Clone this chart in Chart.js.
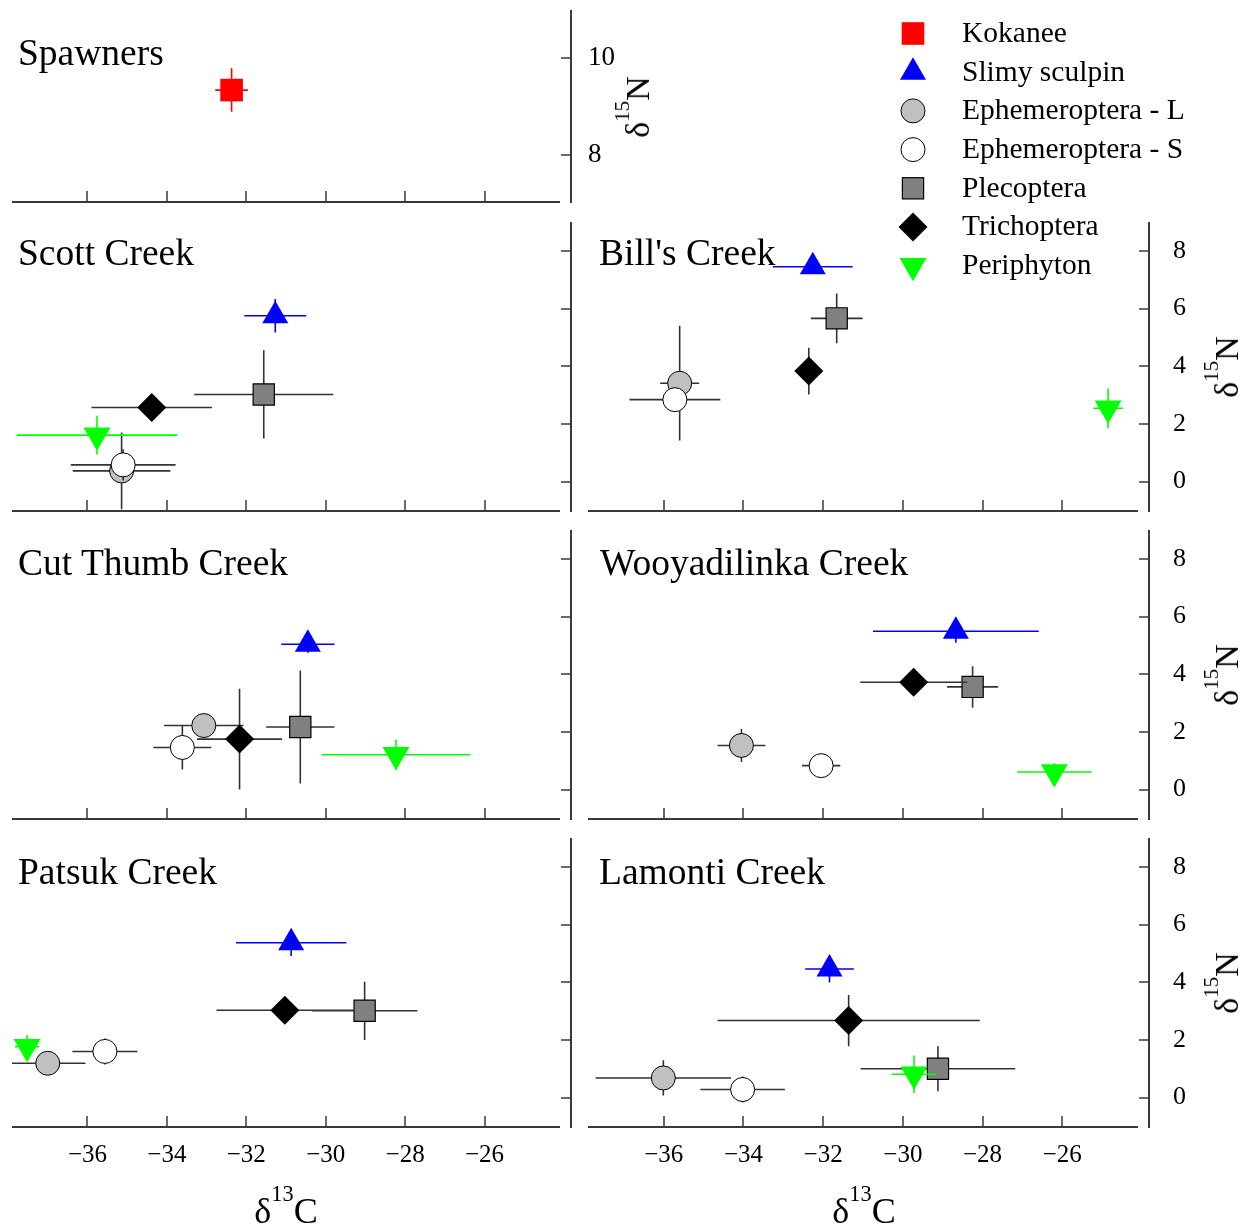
<!DOCTYPE html>
<html>
<head>
<meta charset="utf-8">
<title>Stable isotope biplots</title>
<script src="https://cdn.jsdelivr.net/npm/chart.js@4.4.1/dist/chart.umd.min.js"></script>
<style>
  body { margin: 0; background: #fff; }
  #page { position: relative; width: 1254px; height: 1230px; overflow: hidden; font-family: "Liberation Serif", "Times New Roman", serif; color: #000; }
  #page canvas { position: absolute; left: 0; top: 0; }
  .txt { position: absolute; white-space: nowrap; line-height: 1; }
  .txt sup { font-size: 0.62em; line-height: 0; vertical-align: baseline; position: relative; top: -0.97em; }
  #legend { position: absolute; left: 0; top: 0; }
</style>
</head>
<body>
<div id="page"></div>
<script>
// series order inside every stream panel
const seriesNames = ['Slimy sculpin', 'Ephemeroptera - L', 'Ephemeroptera - S', 'Plecoptera', 'Trichoptera', 'Periphyton'];
const legendNames = ['Kokanee', 'Slimy sculpin', 'Ephemeroptera - L', 'Ephemeroptera - S', 'Plecoptera', 'Trichoptera', 'Periphyton'];
const panelNames = ['Spawners', 'Scott Creek', "Bill's Creek", 'Cut Thumb Creek', 'Wooyadilinka Creek', 'Patsuk Creek', 'Lamonti Creek'];
const xTicks = [-36, -34, -32, -30, -28, -26];
const yTicks = [0, 2, 4, 6, 8];
const spawnTicks = [8, 10];

// d13C mean, d15N mean and their SD (same order as seriesNames)
const spawnC = [-32.37];
const spawnN = [9.34];
const spawnCsd = [0.41];
const spawnNsd = [0.45];

const scottC = [-31.27, -35.14, -35.10, -31.56, -34.38, -35.76];
const scottN = [5.75, 0.37, 0.58, 3.02, 2.57, 1.61];
const scottCsd = [0.78, 1.23, 1.32, 1.75, 1.52, 2.02];
const scottNsd = [0.58, 1.33, 0.54, 1.53, 0.25, 0.67];

const billsC = [-32.26, -35.60, -35.72, -31.66, -32.36, -24.85];
const billsN = [7.45, 3.41, 2.84, 5.66, 3.83, 2.54];
const billsCsd = [1.0, 0.49, 1.14, 0.65, 0.2, 0.37];
const billsNsd = [0.2, 1.99, 0.3, 0.86, 0.81, 0.69];

const cutC = [-30.45, -33.07, -33.61, -30.64, -32.17, -28.23];
const cutN = [5.04, 2.22, 1.46, 2.17, 1.75, 1.21];
const cutCsd = [0.67, 1.0, 0.73, 0.86, 1.07, 1.87];
const cutNsd = [0.3, 0.3, 0.76, 1.96, 1.75, 0.52];

const wooyC = [-28.67, -34.05, -32.05, -28.25, -29.73, -26.20];
const wooyN = [5.49, 1.53, 0.83, 3.56, 3.72, 0.61];
const wooyCsd = [2.08, 0.6, 0.48, 0.64, 1.34, 0.93];
const wooyNsd = [0.4, 0.57, 0.3, 0.72, 0.3, 0.3];

const patsukC = [-30.87, -37.00, -35.56, -29.02, -31.03, -37.52];
const patsukN = [5.37, 1.19, 1.60, 3.01, 3.03, 1.76];
const patsukCsd = [1.39, 0.95, 0.82, 1.33, 1.72, 0.3];
const patsukNsd = [0.46, 0.3, 0.45, 1.01, 0.3, 0.4];

const lamontiC = [-31.84, -36.01, -34.02, -29.12, -31.36, -29.72];
const lamontiN = [4.46, 0.68, 0.28, 1.00, 2.67, 0.81];
const lamontiCsd = [0.61, 1.7, 1.06, 1.94, 3.29, 0.56];
const lamontiNsd = [0.47, 0.61, 0.45, 0.78, 0.89, 0.65];

const styles = {
  'Kokanee': {shape: 'rect', radius: 16, fill: '#ff0000', border: '#ff0000', borderWidth: 0, bar: '#ff0000'},
  'Slimy sculpin': {shape: 'triangle', radius: 15, fill: '#0000ff', border: '#0000ff', borderWidth: 0, bar: '#0000ff'},
  'Ephemeroptera - L': {shape: 'circle', radius: 12, fill: '#c0c0c0', border: '#000', borderWidth: 1, bar: '#333'},
  'Ephemeroptera - S': {shape: 'circle', radius: 12, fill: '#ffffff', border: '#000', borderWidth: 1, bar: '#333'},
  'Plecoptera': {shape: 'rect', radius: 15, fill: '#808080', border: '#000', borderWidth: 1.2, bar: '#333'},
  'Trichoptera': {shape: 'rectRot', radius: 14.5, fill: '#000', border: '#000', borderWidth: 0, bar: '#333'},
  'Periphyton': {shape: 'triangle', radius: 15.5, rotation: 180, fill: '#00ff00', border: '#00ff00', borderWidth: 0, bar: '#00ff00'}
};

const W = 1254, H = 1230, AX = 60;
const XMIN = -37.9, XMAX = -24.1, YAXIS_AT = -23.83;
const FONT = '"Liberation Serif", "Times New Roman", serif';
const page = document.querySelector('#page');

// axis lines with inward ticks, y axis sits a little right of the x axis end
const frameAxes = {
  id: 'frameAxes',
  beforeDatasetsDraw(chart) {
    const {ctx, chartArea: a} = chart;
    const x = chart.scales.x, y = chart.scales.y;
    const yx = Math.round(x.getPixelForValue(YAXIS_AT));
    ctx.save();
    ctx.strokeStyle = '#3a3a3a';
    ctx.lineWidth = 2;
    ctx.beginPath();
    ctx.moveTo(a.left, a.bottom);
    ctx.lineTo(a.right, a.bottom);
    ctx.moveTo(yx, a.top);
    ctx.lineTo(yx, a.bottom + 1);
    ctx.stroke();
    ctx.lineWidth = 1.5;
    ctx.beginPath();
    x.ticks.forEach(t => {
      const p = Math.round(x.getPixelForValue(t.value));
      ctx.moveTo(p, a.bottom);
      ctx.lineTo(p, a.bottom - 11);
    });
    y.ticks.forEach(t => {
      const p = Math.round(y.getPixelForValue(t.value));
      ctx.moveTo(yx, p);
      ctx.lineTo(yx - 10, p);
    });
    ctx.stroke();
    ctx.restore();
  }
};

// error bars drawn just before each dataset's marker
const errorBars = {
  id: 'errorBars',
  beforeDatasetDraw(chart, args) {
    const ds = chart.data.datasets[args.index];
    const {ctx, chartArea: a} = chart;
    const x = chart.scales.x, y = chart.scales.y;
    ctx.save();
    ctx.beginPath();
    ctx.rect(a.left, a.top, a.right - a.left, a.bottom - a.top);
    ctx.clip();
    ctx.strokeStyle = ds.barColor;
    ctx.lineWidth = 1.6;
    ds.data.forEach((p, i) => {
      const px = x.getPixelForValue(p.x), py = y.getPixelForValue(p.y);
      ctx.beginPath();
      ctx.moveTo(x.getPixelForValue(p.x - ds.errX[i]), py);
      ctx.lineTo(x.getPixelForValue(p.x + ds.errX[i]), py);
      ctx.moveTo(px, y.getPixelForValue(p.y - ds.errY[i]));
      ctx.lineTo(px, y.getPixelForValue(p.y + ds.errY[i]));
      ctx.stroke();
    });
    ctx.restore();
  }
};

function makeSets(names, c, n, cSd, nSd) {
  return names.map((name, i) => {
    const st = styles[name];
    return {
      label: name,
      data: [{x: c[i], y: n[i]}],
      errX: [cSd[i]],
      errY: [nSd[i]],
      barColor: st.bar,
      pointStyle: st.shape,
      pointRadius: st.radius,
      pointHoverRadius: st.radius,
      pointRotation: st.rotation || 0,
      backgroundColor: st.fill,
      borderColor: st.border,
      borderWidth: st.borderWidth,
      order: names.length - i
    };
  });
}

function panel(box, sets, showX, showY, yPad, yFont, ymin, ymax, yList) {
  const cv = document.createElement('canvas');
  cv.width = W;
  cv.height = H;
  page.appendChild(cv);
  new Chart(cv, {
    type: 'scatter',
    data: {datasets: sets},
    options: {
      responsive: false,
      animation: false,
      devicePixelRatio: 1,
      events: [],
      layout: {autoPadding: false, padding: {left: box.L, top: box.T, right: W - box.R - AX, bottom: H - box.B - AX}},
      plugins: {legend: {display: false}, tooltip: {enabled: false}},
      scales: {
        x: {
          type: 'linear', position: 'bottom', min: XMIN, max: XMAX,
          afterFit: s => { s.height = AX; s.paddingLeft = 0; s.paddingRight = 0; s.paddingTop = 0; s.paddingBottom = 0; },
          afterBuildTicks: s => { s.ticks = xTicks.map(v => ({value: v})); },
          grid: {display: false, drawTicks: false}, border: {display: false},
          ticks: {
            display: showX, padding: 13, maxRotation: 0, autoSkip: false, color: '#000',
            font: {family: FONT, size: 25},
            callback: v => String(v).replace('-', '\u2212')
          }
        },
        y: {
          type: 'linear', position: 'right', min: ymin, max: ymax,
          afterFit: s => { s.width = AX; s.paddingLeft = 0; s.paddingRight = 0; s.paddingTop = 0; s.paddingBottom = 0; },
          afterBuildTicks: s => { s.ticks = yList.map(v => ({value: v})); },
          grid: {display: false, drawTicks: false}, border: {display: false},
          ticks: {display: showY, padding: yPad, color: '#000', font: {family: FONT, size: yFont}}
        }
      }
    },
    plugins: [frameAxes, errorBars]
  });
}

const LEFT = {L: 12, R: 560};
const RIGHT = {L: 588, R: 1138};
const rowTop = [10, 222, 530, 838];
const rowBot = [202, 511, 819, 1127];

panel({L: LEFT.L, R: LEFT.R, T: rowTop[0], B: rowBot[0]},
  makeSets(['Kokanee'], spawnC, spawnN, spawnCsd, spawnNsd), false, true, 28, 27, 7.02, 11, spawnTicks);
panel({L: LEFT.L, R: LEFT.R, T: rowTop[1], B: rowBot[1]},
  makeSets(seriesNames, scottC, scottN, scottCsd, scottNsd), false, false, 35, 26, -1.02, 9, yTicks);
panel({L: RIGHT.L, R: RIGHT.R, T: rowTop[1], B: rowBot[1]},
  makeSets(seriesNames, billsC, billsN, billsCsd, billsNsd), false, true, 35, 26, -1.02, 9, yTicks);
panel({L: LEFT.L, R: LEFT.R, T: rowTop[2], B: rowBot[2]},
  makeSets(seriesNames, cutC, cutN, cutCsd, cutNsd), false, false, 35, 26, -1.02, 9, yTicks);
panel({L: RIGHT.L, R: RIGHT.R, T: rowTop[2], B: rowBot[2]},
  makeSets(seriesNames, wooyC, wooyN, wooyCsd, wooyNsd), false, true, 35, 26, -1.02, 9, yTicks);
panel({L: LEFT.L, R: LEFT.R, T: rowTop[3], B: rowBot[3]},
  makeSets(seriesNames, patsukC, patsukN, patsukCsd, patsukNsd), true, false, 35, 26, -1.02, 9, yTicks);
panel({L: RIGHT.L, R: RIGHT.R, T: rowTop[3], B: rowBot[3]},
  makeSets(seriesNames, lamontiC, lamontiN, lamontiCsd, lamontiNsd), true, true, 35, 26, -1.02, 9, yTicks);

// text helpers
function addText(html, x, base, size, center) {
  const d = document.createElement('div');
  d.className = 'txt';
  d.innerHTML = html;
  d.style.fontSize = size + 'px';
  d.style.left = x + 'px';
  d.style.top = (base - 0.8375 * size) + 'px';
  if (center) d.style.transform = 'translateX(-50%)';
  page.appendChild(d);
}
function addVertical(html, cx, cy, size) {
  const d = document.createElement('div');
  d.className = 'txt';
  d.innerHTML = html;
  d.style.fontSize = size + 'px';
  d.style.left = cx + 'px';
  d.style.top = cy + 'px';
  d.style.transform = 'translate(-50%, -50%) rotate(-90deg)';
  page.appendChild(d);
}

// panel names
const titlePos = [[18, 65.7], [18, 265.7], [599, 265.7], [18, 575.7], [600, 575.7], [18, 884.3], [599, 884.3]];
panelNames.forEach((t, i) => addText(t, titlePos[i][0], titlePos[i][1], 37.5));

// axis titles
addText('&delta;<sup>13</sup>C', 286, 1223, 36, true);
addText('&delta;<sup>13</sup>C', 864, 1223, 36, true);
addVertical('&delta;<sup>15</sup>N', 638, 107, 34);
[1, 2, 3].forEach(r => addVertical('&delta;<sup>15</sup>N', 1227, (rowTop[r] + rowBot[r]) / 2, 34));

// legend
function svgMarker(st, cx, cy) {
  const r = st.radius;
  const paint = `fill="${st.fill}" stroke="${st.borderWidth ? st.border : 'none'}" stroke-width="${st.borderWidth}"`;
  if (st.shape === 'circle') return `<circle cx="${cx}" cy="${cy}" r="${r}" ${paint}/>`;
  if (st.shape === 'rect') {
    const h = r * Math.SQRT1_2;
    return `<rect x="${cx - h}" y="${cy - h}" width="${2 * h}" height="${2 * h}" ${paint}/>`;
  }
  let pts;
  if (st.shape === 'triangle') {
    const a = (st.rotation || 0) * Math.PI / 180;
    pts = [0, 1, 2].map(k => {
      const b = a + k * 2 * Math.PI / 3;
      return (cx + Math.sin(b) * r) + ',' + (cy - Math.cos(b) * r);
    });
  } else {
    pts = [(cx - r) + ',' + cy, cx + ',' + (cy - r), (cx + r) + ',' + cy, cx + ',' + (cy + r)];
  }
  return `<polygon points="${pts.join(' ')}" ${paint}/>`;
}
let marks = '';
legendNames.forEach((name, i) => {
  const base = 42.7 + i * 38.7;
  marks += svgMarker(styles[name], 913, base - 9.2);
  addText(name, 962, base, 29.5);
});
const svg = document.createElementNS('http://www.w3.org/2000/svg', 'svg');
svg.setAttribute('id', 'legend');
svg.setAttribute('width', W);
svg.setAttribute('height', 300);
svg.innerHTML = marks;
page.appendChild(svg);
</script>
</body>
</html>
